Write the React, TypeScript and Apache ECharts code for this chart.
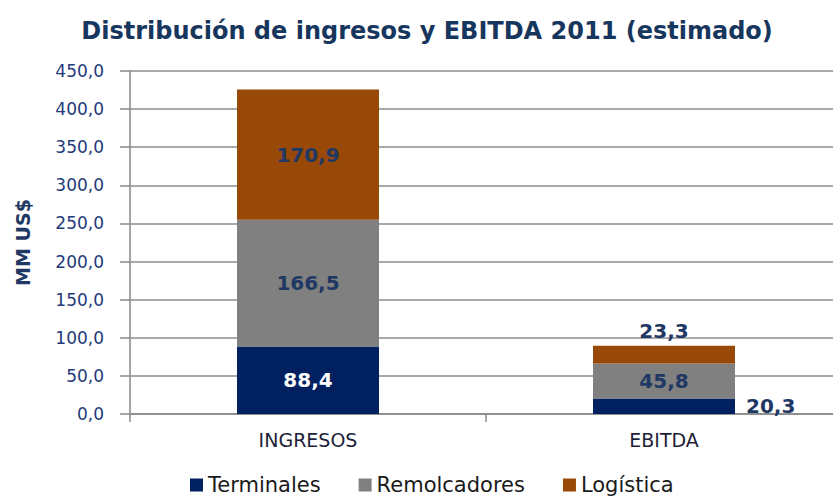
import React, { useEffect, useRef } from "react";
import * as echarts from "echarts";

const categories = ["INGRESOS", "EBITDA"];
const terminales = [88.4, 20.3];
const remolcadores = [166.5, 45.8];
const logistica = [170.9, 23.3];
const yTicks = { min: 0, max: 450, interval: 50 };

const NAVY = "#1F3864";
const fmt = (v: number) => v.toFixed(1).replace(".", ",");

export default function App() {
  const ref = useRef<HTMLDivElement>(null);
  useEffect(() => {
    if (!ref.current) return;
    const chart = echarts.init(ref.current, undefined, { renderer: "svg" });
    const font = "DejaVu Sans";
    const labelStyle = {
      show: true,
      fontFamily: font,
      fontWeight: "bold" as const,
      fontSize: 20,
      color: NAVY,
      formatter: (p: any) => fmt(p.value),
    };
    chart.setOption({
      animation: false,
      backgroundColor: "#ffffff",
      title: {
        text: "Distribución de ingresos y EBITDA 2011 (estimado)",
        left: 422,
        textAlign: "center",
        top: 14,
        textStyle: { fontFamily: font, fontWeight: "bold", fontSize: 24, color: "#17365D" },
      },
      grid: { left: 130, top: 71, width: 712, height: 343, containLabel: false },
      legend: {
        top: 469,
        left: 185,
        itemWidth: 13,
        itemHeight: 13,
        itemGap: 38,
        icon: "rect",
        textStyle: { fontFamily: font, fontSize: 21, lineHeight: 22, color: "#1a1a1a" },
        data: ["Terminales", "Remolcadores", "Logística"],
      },
      xAxis: {
        type: "category",
        data: categories,
        axisLine: { lineStyle: { color: "#888888", width: 1.5 } },
        axisTick: { show: true, length: 8, lineStyle: { color: "#888888", width: 1.5 } },
        axisLabel: { fontFamily: font, fontSize: 19, color: "#1e1e3a", margin: 16 },
      },
      yAxis: {
        type: "value",
        min: yTicks.min,
        max: yTicks.max,
        interval: yTicks.interval,
        name: "MM US$",
        nameLocation: "middle",
        nameGap: 98,
        nameTextStyle: { fontFamily: font, fontWeight: "bold", fontSize: 19, color: NAVY },
        axisLine: { show: true, lineStyle: { color: "#888888", width: 1.5 } },
        axisTick: { show: true, length: 10, lineStyle: { color: "#888888", width: 1.5 } },
        splitLine: { lineStyle: { color: "#8c8c8c", width: 1.5 } },
        axisLabel: {
          fontFamily: font,
          fontSize: 17,
          color: "#243a7a",
          margin: 26,
          formatter: (v: number) => fmt(v),
        },
      },
      series: [
        {
          name: "Terminales",
          type: "bar",
          stack: "total",
          barWidth: 142,
          itemStyle: { color: "#002060" },
          data: terminales.map((v, i) => ({
            value: v,
            label:
              i === 0
                ? { ...labelStyle, position: "inside", color: "#ffffff" }
                : { ...labelStyle, position: "right", distance: 11 },
          })),
        },
        {
          name: "Remolcadores",
          type: "bar",
          stack: "total",
          barWidth: 142,
          itemStyle: { color: "#808080" },
          label: { ...labelStyle, position: "inside" },
          data: remolcadores,
        },
        {
          name: "Logística",
          type: "bar",
          stack: "total",
          barWidth: 142,
          itemStyle: { color: "#984807" },
          data: logistica.map((v, i) => ({
            value: v,
            label:
              i === 0
                ? { ...labelStyle, position: "inside" }
                : { ...labelStyle, position: "top", distance: 5 },
          })),
        },
      ],
    });
    return () => chart.dispose();
  }, []);
  return (
    <div
      style={{
        position: "absolute",
        left: 0,
        top: 0,
        width: 833,
        height: 499,
        overflow: "hidden",
        background: "#ffffff",
      }}
    >
      <div ref={ref} style={{ width: 845, height: 499 }} />
    </div>
  );
}
